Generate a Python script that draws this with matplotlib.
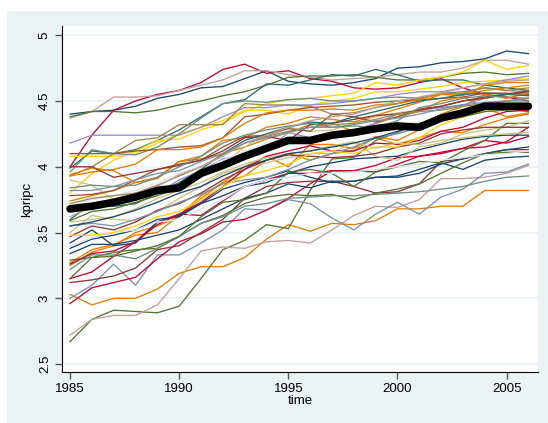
import matplotlib
matplotlib.use("Agg")
import matplotlib.pyplot as plt
import numpy as np

# kpripc by state, 1985-2006
years = list(range(1985, 2007))

# Stata s2color palette
navy, maroon, fgreen, dkorange = "#1a476f", "#90353b", "#55752f", "#e37e00"
teal, cranberry, lavender, khaki = "#6e8e84", "#c10534", "#938dd2", "#cac27e"
sienna, emidblue, emerald, brown = "#a0522d", "#7b92a8", "#2d6d66", "#9c8847"
erose, gold, bluishgray = "#bfa19c", "#ffd200", "#d9e6eb"

s01 = [4.40, 4.42, 4.43, 4.46, 4.52, 4.55, 4.60, 4.61, 4.67, 4.73, 4.65, 4.63, 4.62, 4.64, 4.67, 4.75, 4.76, 4.79, 4.80, 4.82, 4.88, 4.86]
s02 = [4.00, 4.24, 4.43, 4.50, 4.55, 4.58, 4.64, 4.74, 4.78, 4.71, 4.73, 4.67, 4.65, 4.60, 4.59, 4.60, 4.64, 4.67, 4.60, 4.55, 4.53, 4.50]
s03 = [4.37, 4.42, 4.53, 4.53, 4.54, 4.58, 4.62, 4.66, 4.73, 4.73, 4.70, 4.68, 4.66, 4.67, 4.68, 4.70, 4.72, 4.72, 4.75, 4.81, 4.81, 4.78]
s04 = [4.38, 4.42, 4.42, 4.41, 4.43, 4.47, 4.50, 4.54, 4.57, 4.62, 4.68, 4.69, 4.69, 4.70, 4.68, 4.66, 4.66, 4.68, 4.71, 4.72, 4.70, 4.71]
s05 = [3.99, 4.12, 4.10, 4.13, 4.20, 4.28, 4.38, 4.48, 4.51, 4.63, 4.62, 4.66, 4.70, 4.69, 4.74, 4.70, 4.65, 4.66, 4.66, 4.62, 4.60, 4.58]
s06 = [3.80, 3.95, 4.05, 4.12, 4.20, 4.21, 4.28, 4.33, 4.42, 4.48, 4.51, 4.52, 4.54, 4.56, 4.64, 4.62, 4.66, 4.68, 4.72, 4.81, 4.74, 4.77]
s07 = [4.08, 4.08, 4.08, 4.10, 4.18, 4.25, 4.30, 4.35, 4.43, 4.43, 4.40, 4.47, 4.50, 4.52, 4.57, 4.57, 4.59, 4.61, 4.64, 4.65, 4.66, 4.67]
s08 = [4.18, 4.24, 4.24, 4.24, 4.24, 4.24, 4.30, 4.38, 4.45, 4.45, 4.47, 4.47, 4.48, 4.50, 4.52, 4.55, 4.57, 4.57, 4.60, 4.63, 4.66, 4.69]
s09 = [3.96, 4.13, 4.10, 4.09, 4.15, 4.25, 4.37, 4.48, 4.50, 4.49, 4.51, 4.52, 4.50, 4.50, 4.52, 4.53, 4.52, 4.56, 4.57, 4.60, 4.58, 4.57]
s10 = [3.93, 4.00, 4.10, 4.20, 4.22, 4.32, 4.32, 4.32, 4.48, 4.47, 4.47, 4.46, 4.40, 4.41, 4.45, 4.48, 4.52, 4.55, 4.56, 4.60, 4.58, 4.60]
s11 = [4.10, 4.10, 4.10, 4.12, 4.13, 4.15, 4.16, 4.22, 4.38, 4.40, 4.43, 4.45, 4.46, 4.47, 4.49, 4.50, 4.51, 4.52, 4.53, 4.56, 4.56, 4.55]
s12 = [3.93, 3.96, 3.98, 4.02, 4.13, 4.13, 4.15, 4.22, 4.33, 4.41, 4.43, 4.43, 4.44, 4.43, 4.47, 4.48, 4.51, 4.56, 4.55, 4.58, 4.60, 4.62]
s13 = [3.94, 3.99, 3.97, 3.88, 3.91, 4.04, 4.08, 4.20, 4.22, 4.30, 4.33, 4.38, 4.36, 4.34, 4.39, 4.44, 4.49, 4.55, 4.54, 4.62, 4.64, 4.64]
s14 = [3.74, 3.78, 3.82, 3.88, 3.92, 4.04, 4.06, 4.10, 4.15, 4.21, 4.26, 4.32, 4.33, 4.27, 4.33, 4.38, 4.42, 4.50, 4.53, 4.45, 4.38, 4.41]
s15 = [3.27, 3.37, 3.41, 3.48, 3.50, 3.63, 3.78, 3.88, 4.00, 4.08, 4.00, 4.17, 4.17, 4.14, 4.22, 4.17, 4.22, 4.27, 4.26, 4.32, 4.37, 4.40]
s16 = [3.03, 2.95, 3.00, 3.00, 3.07, 3.19, 3.24, 3.24, 3.31, 3.45, 3.56, 3.51, 3.57, 3.56, 3.59, 3.68, 3.68, 3.70, 3.70, 3.82, 3.82, 3.82]
s17 = [3.25, 3.35, 3.40, 3.50, 3.55, 3.62, 3.76, 3.88, 3.93, 4.05, 4.10, 4.05, 4.10, 4.12, 4.23, 4.20, 4.28, 4.40, 4.46, 4.55, 4.52, 4.56]
s18 = [2.67, 2.84, 2.91, 2.90, 2.89, 2.94, 3.15, 3.37, 3.44, 3.56, 3.53, 3.82, 4.06, 4.07, 4.20, 4.26, 4.33, 4.38, 4.42, 4.45, 4.44, 4.42]
s19 = [2.72, 2.84, 2.87, 2.87, 2.95, 3.15, 3.36, 3.39, 3.38, 3.43, 3.44, 3.42, 3.52, 3.63, 3.70, 3.69, 3.75, 3.91, 3.91, 3.92, 3.95, 4.01]
s20 = [3.00, 3.10, 3.26, 3.10, 3.33, 3.33, 3.42, 3.52, 3.68, 3.67, 3.75, 3.72, 3.61, 3.52, 3.64, 3.73, 3.64, 3.77, 3.83, 3.95, 3.96, 4.02]
s21 = [2.96, 3.08, 3.12, 3.16, 3.30, 3.43, 3.49, 3.58, 3.60, 3.67, 3.76, 3.87, 3.97, 3.97, 4.01, 4.07, 4.08, 4.10, 4.14, 4.20, 4.18, 4.23]
s22 = [3.12, 3.14, 3.17, 3.23, 3.37, 3.40, 3.50, 3.60, 3.76, 3.85, 3.88, 3.89, 3.89, 3.85, 3.80, 3.81, 3.87, 4.04, 4.06, 4.10, 4.13, 4.13]
s23 = [3.15, 3.20, 3.32, 3.43, 3.58, 3.64, 3.63, 3.74, 3.85, 3.90, 3.95, 3.95, 3.97, 3.97, 3.96, 4.02, 4.08, 4.11, 4.14, 4.15, 4.19, 4.30]
s24 = [3.34, 3.41, 3.41, 3.44, 3.48, 3.52, 3.60, 3.68, 3.76, 3.80, 3.87, 3.84, 3.89, 3.89, 3.92, 3.92, 3.95, 4.02, 4.06, 4.10, 4.13, 4.15]
s25 = [3.42, 3.52, 3.40, 3.42, 3.58, 3.63, 3.72, 3.83, 3.88, 3.92, 3.97, 3.92, 3.88, 3.89, 3.92, 3.93, 3.98, 4.03, 3.98, 4.05, 4.07, 4.08]
s26 = [3.38, 3.45, 3.48, 3.52, 3.60, 3.62, 3.72, 3.78, 3.85, 3.88, 3.95, 4.00, 4.03, 4.06, 4.07, 4.08, 4.13, 4.17, 4.21, 4.23, 4.24, 4.24]
s27 = [3.29, 3.31, 3.35, 3.37, 3.38, 3.47, 3.57, 3.63, 3.72, 3.77, 3.79, 3.78, 3.79, 3.75, 3.80, 3.83, 3.87, 3.95, 4.03, 4.10, 4.11, 4.11]
s28 = [3.22, 3.33, 3.33, 3.30, 3.38, 3.47, 3.57, 3.62, 3.70, 3.72, 3.76, 3.77, 3.78, 3.78, 3.79, 3.80, 3.81, 3.83, 3.85, 3.89, 3.92, 3.93]
s29 = [3.15, 3.31, 3.32, 3.36, 3.40, 3.47, 3.62, 3.73, 3.75, 3.80, 3.96, 3.98, 3.95, 3.85, 3.96, 4.00, 4.04, 4.03, 4.12, 4.20, 4.33, 4.33]
s30 = [3.50, 3.63, 3.60, 3.59, 3.66, 3.76, 3.85, 3.95, 4.00, 4.03, 4.07, 4.10, 4.10, 4.19, 4.08, 4.05, 4.15, 4.18, 4.25, 4.28, 4.30, 4.35]
s31 = [3.90, 3.86, 3.75, 3.72, 3.79, 3.86, 3.92, 4.02, 4.15, 4.25, 4.30, 4.27, 4.28, 4.33, 4.38, 4.41, 4.43, 4.45, 4.47, 4.44, 4.45, 4.46]
s32 = [3.66, 3.72, 3.70, 3.72, 3.80, 3.90, 3.97, 4.06, 4.10, 4.12, 4.26, 4.22, 4.25, 4.28, 4.33, 4.40, 4.43, 4.45, 4.47, 4.52, 4.55, 4.58]
s33 = [3.78, 3.79, 3.82, 3.90, 3.98, 4.02, 4.05, 4.15, 4.23, 4.24, 4.29, 4.27, 4.40, 4.38, 4.34, 4.38, 4.44, 4.46, 4.50, 4.52, 4.55, 4.58]
s34 = [4.00, 4.00, 3.92, 3.95, 3.98, 4.01, 4.05, 4.12, 4.22, 4.23, 4.20, 4.32, 4.33, 4.36, 4.39, 4.40, 4.43, 4.46, 4.50, 4.53, 4.55, 4.57]
s35 = [3.47, 3.55, 3.52, 3.58, 3.67, 3.72, 3.80, 3.90, 3.98, 4.05, 4.09, 4.08, 4.07, 4.08, 4.10, 4.15, 4.18, 4.25, 4.28, 4.30, 4.30, 4.30]
s36 = [3.26, 3.34, 3.36, 3.43, 3.56, 3.64, 3.73, 3.85, 3.98, 4.08, 4.12, 4.16, 4.12, 4.12, 4.18, 4.17, 4.20, 4.27, 4.30, 4.37, 4.42, 4.43]
s37 = [3.55, 3.57, 3.55, 3.60, 3.66, 3.73, 3.79, 3.87, 3.90, 3.92, 3.98, 4.05, 4.10, 4.15, 4.22, 4.25, 4.30, 4.36, 4.41, 4.47, 4.50, 4.52]
s38 = [3.40, 3.46, 3.50, 3.52, 3.58, 3.60, 3.68, 3.75, 3.85, 3.90, 3.92, 3.95, 3.95, 3.96, 3.98, 4.00, 4.02, 4.05, 4.07, 4.09, 4.10, 4.12]
s39 = [3.70, 3.75, 3.78, 3.82, 3.88, 3.95, 4.00, 4.05, 4.12, 4.18, 4.22, 4.20, 4.23, 4.27, 4.29, 4.32, 4.34, 4.37, 4.39, 4.42, 4.44, 4.45]
s40 = [3.60, 3.72, 3.70, 3.72, 3.80, 3.88, 3.98, 4.10, 4.20, 4.25, 4.30, 4.34, 4.33, 4.38, 4.42, 4.46, 4.50, 4.52, 4.55, 4.56, 4.55, 4.54]
s41 = [3.48, 3.48, 3.50, 3.55, 3.62, 3.66, 3.75, 3.85, 3.93, 3.97, 4.02, 4.10, 4.12, 4.10, 4.15, 4.15, 4.22, 4.32, 4.38, 4.42, 4.45, 4.47]
s42 = [3.58, 3.60, 3.62, 3.68, 3.76, 3.82, 3.88, 3.96, 4.02, 4.07, 4.10, 4.12, 4.16, 4.19, 4.14, 4.18, 4.17, 4.20, 4.22, 4.24, 4.25, 4.26]
s43 = [3.84, 3.86, 3.85, 3.86, 3.92, 4.00, 4.08, 4.18, 4.24, 4.28, 4.31, 4.33, 4.30, 4.31, 4.30, 4.35, 4.45, 4.48, 4.52, 4.54, 4.53, 4.52]
s44 = [3.72, 3.76, 3.78, 3.80, 3.86, 3.93, 4.00, 4.09, 4.18, 4.23, 4.27, 4.30, 4.32, 4.33, 4.36, 4.40, 4.42, 4.43, 4.46, 4.48, 4.50, 4.52]
s45 = [3.62, 3.70, 3.75, 3.80, 3.85, 3.94, 4.00, 4.08, 4.18, 4.24, 4.30, 4.35, 4.38, 4.40, 4.45, 4.50, 4.53, 4.56, 4.60, 4.63, 4.65, 4.66]
s46 = [3.55, 3.58, 3.62, 3.67, 3.73, 3.80, 3.85, 3.93, 4.00, 4.05, 4.10, 4.12, 4.15, 4.18, 4.22, 4.27, 4.32, 4.35, 4.40, 4.45, 4.47, 4.48]
s47 = [3.82, 3.82, 3.85, 3.90, 3.95, 3.97, 4.04, 4.10, 4.18, 4.22, 4.26, 4.30, 4.30, 4.32, 4.35, 4.37, 4.40, 4.44, 4.47, 4.49, 4.50, 4.50]
s48 = [3.59, 3.66, 3.68, 3.73, 3.78, 3.84, 3.93, 4.00, 4.07, 4.14, 4.18, 4.20, 4.22, 4.25, 4.27, 4.30, 4.32, 4.35, 4.38, 4.42, 4.43, 4.44]

series = [s01, s02, s03, s04, s05, s06, s07, s08, s09, s10, s11, s12,
          s13, s14, s15, s16, s17, s18, s19, s20, s21, s22, s23, s24,
          s25, s26, s27, s28, s29, s30, s31, s32, s33, s34, s35, s36,
          s37, s38, s39, s40, s41, s42, s43, s44, s45, s46, s47, s48]
colors = [navy, cranberry, erose, fgreen, emerald, gold, gold, lavender, teal, brown, sienna, dkorange,
          dkorange, dkorange, dkorange, dkorange, dkorange, fgreen, erose, emidblue, cranberry, maroon, cranberry, navy,
          navy, navy, fgreen, teal, fgreen, khaki, khaki, lavender, sienna, maroon, maroon, cranberry,
          emidblue, bluishgray, bluishgray, emerald, gold, khaki, teal, brown, erose, navy, emidblue, fgreen]

# average line
mean_kpripc = [3.68, 3.70, 3.73, 3.77, 3.82, 3.84, 3.95, 4.01, 4.08, 4.14, 4.20, 4.20,
               4.24, 4.26, 4.29, 4.31, 4.30, 4.37, 4.41, 4.46, 4.46, 4.46]

plt.rcParams['font.family'] = ['Liberation Sans', 'DejaVu Sans']

fig = plt.figure(figsize=(5.48, 4.23), dpi=100, facecolor="white")
# light graph region behind the plot
bg = plt.Rectangle((7 / 548, 0), 1, 1 - 11 / 423, transform=fig.transFigure,
                   facecolor="#eaf2f3", edgecolor="none", zorder=-10)
fig.add_artist(bg)
ax = fig.add_axes([62 / 548, 1 - 372 / 423, (538 - 62) / 548, (372 - 26) / 423])
ax.set_facecolor("white")

for s, c in zip(series, colors):
    ax.plot(years, s, color=c, lw=0.95, solid_joinstyle="miter")
ax.plot(years, mean_kpripc, color="black", lw=5.5, solid_capstyle="round")

ax.set_xlim(1984.63, 2006.44)
ax.set_ylim(2.44, 5.07)
ax.set_xticks([1985, 1990, 1995, 2000, 2005])
ax.set_yticks([2.5, 3, 3.5, 4, 4.5, 5])
ax.set_yticklabels(["2.5", "3", "3.5", "4", "4.5", "5"], rotation=90, va="center")
ax.grid(axis="y", color="#eaf2f3", lw=1.2)
ax.set_axisbelow(True)
for side in ["top", "right"]:
    ax.spines[side].set_visible(False)
ax.spines["left"].set_color("black")
ax.spines["bottom"].set_color("black")
ax.tick_params(axis="both", length=5, width=1, color="#555555", labelsize=9.5, pad=3)
ax.set_xlabel("time", fontsize=9.5, labelpad=0)
ax.set_ylabel("kpripc", fontsize=9.5, labelpad=4)

fig.savefig("out.png", dpi=100, facecolor=fig.get_facecolor())
